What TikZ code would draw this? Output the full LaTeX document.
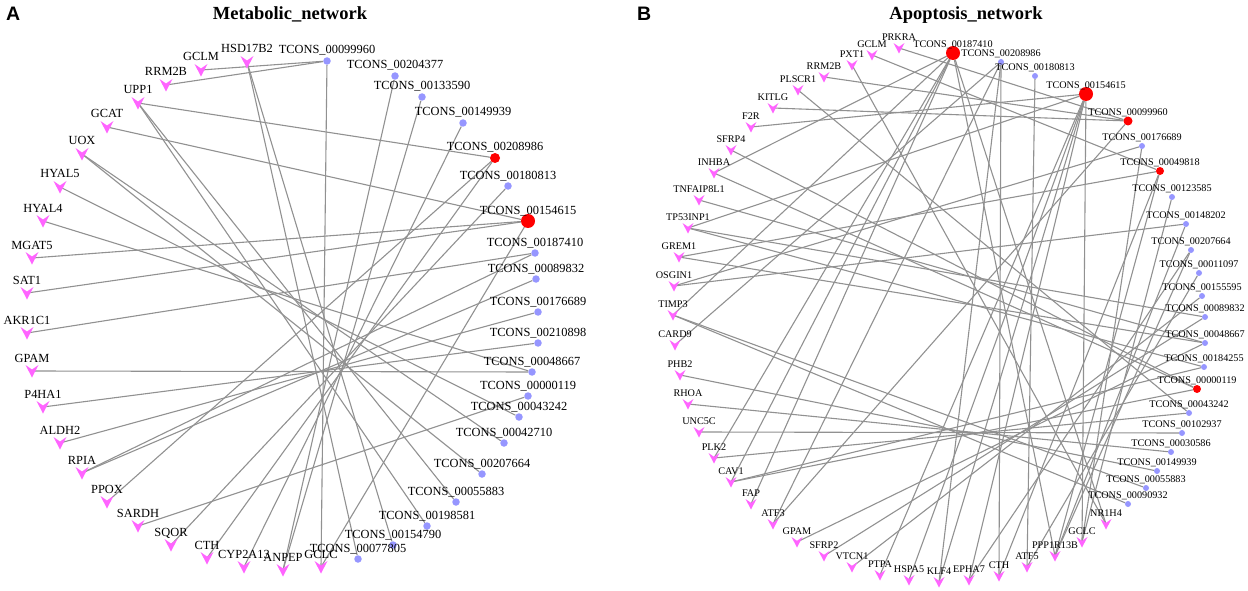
\documentclass[tikz,border=0pt]{standalone}
\usepackage{fontspec}
\setmainfont{Liberation Serif}
\newfontfamily\panelfont{Liberation Sans}
\pgfdeclarelayer{bg}\pgfsetlayers{bg,main}
\definecolor{genecol}{RGB}{255,100,255}
\definecolor{tcol}{RGB}{150,150,255}
\definecolor{edgecol}{RGB}{145,145,145}
\tikzset{
  lblA/.style={anchor=base,inner sep=0pt,font=\fontsize{12.4}{14}\selectfont},
  lblB/.style={anchor=base,inner sep=0pt,font=\fontsize{10.2}{12}\selectfont},
  ttl/.style={anchor=base,inner sep=0pt,font=\fontsize{18.5}{20}\selectfont\bfseries},
  pnl/.style={anchor=base west,inner sep=0pt,font=\fontsize{19.5}{21}\selectfont\panelfont\bfseries},
  gnode/.style={shape=coordinate},
  tnode/.style={circle,fill=tcol,inner sep=0pt,minimum size=#1},
  rnode/.style={circle,fill=red,inner sep=0pt,minimum size=#1},
  edge/.style={draw=edgecol,line width=1.1pt}
}
% #1 panel (A/B), #2 name, #3 x, #4 y, #5 text
\newcommand{\gene}[5]{%
  \node[gnode] (#1-#2) at (#3,#4) {};
  \ifx#1A
    \fill[genecol,shift={(#1-#2)}] (-6.5,-6) -- (0,-1.5) -- (6.5,-6) -- (0,6.5) -- cycle;
    \node[lblA] (#1-#2-t) at ([yshift=9pt]#1-#2) {#5};
  \else
    \fill[genecol,shift={(#1-#2)}] (-5.5,-5) -- (0,-1.2) -- (5.5,-5) -- (0,5.5) -- cycle;
    \node[lblB] (#1-#2-t) at ([yshift=7.5pt]#1-#2) {#5};
  \fi}
% #1 style, #2 panel, #3 number, #4 x, #5 y
\newcommand{\tcons}[5]{%
  \node[#1] (#2-#3) at (#4,#5) {};
  \ifx#2A
    \node[lblA] (#2-#3-t) at ([yshift=7pt]#2-#3.center) {TCONS\_#3};
  \else
    \node[lblB] (#2-#3-t) at ([yshift=5.6pt]#2-#3.center) {TCONS\_#3};
  \fi}
\begin{document}
\begin{tikzpicture}[x=1pt,y=-1pt]
\useasboundingbox (0,0) rectangle (1248,591);
% ---------- panel A ----------
\node[pnl] (pA) at (6,21) {A};
\node[ttl] (tA) at (290,20) {Metabolic\_network};
\gene{A}{HSD17B2}{247}{62}{HSD17B2}
\gene{A}{GCLM}{201}{70}{GCLM}
\gene{A}{RRM2B}{166}{85}{RRM2B}
\gene{A}{UPP1}{138}{103}{UPP1}
\gene{A}{GCAT}{107}{127}{GCAT}
\gene{A}{UOX}{82}{154}{UOX}
\gene{A}{HYAL5}{60}{187}{HYAL5}
\gene{A}{HYAL4}{43}{221}{HYAL4}
\gene{A}{MGAT5}{32}{258}{MGAT5}
\gene{A}{SAT1}{27}{293}{SAT1}
\gene{A}{AKR1C1}{27}{333}{AKR1C1}
\gene{A}{GPAM}{32}{371}{GPAM}
\gene{A}{P4HA1}{43}{407}{P4HA1}
\gene{A}{ALDH2}{60}{443}{ALDH2}
\gene{A}{RPIA}{82}{473}{RPIA}
\gene{A}{PPOX}{107}{502}{PPOX}
\gene{A}{SARDH}{138}{526}{SARDH}
\gene{A}{SQOR}{171}{545}{SQOR}
\gene{A}{CTH}{207}{558}{CTH}
\gene{A}{CYP2A13}{244}{567}{CYP2A13}
\gene{A}{ANPEP}{283}{570}{ANPEP}
\gene{A}{GCLC}{321}{567}{GCLC}
\tcons{tnode=7.5pt}{A}{00099960}{327}{61}
\tcons{tnode=7.5pt}{A}{00204377}{395}{76}
\tcons{tnode=7.5pt}{A}{00133590}{422}{97}
\tcons{tnode=7.5pt}{A}{00149939}{463}{123}
\tcons{rnode=10pt}{A}{00208986}{495}{158}
\tcons{tnode=7.5pt}{A}{00180813}{508}{186}
\tcons{rnode=14pt}{A}{00154615}{528}{221}
\tcons{tnode=7.5pt}{A}{00187410}{535}{253}
\tcons{tnode=7.5pt}{A}{00089832}{536}{279}
\tcons{tnode=7.5pt}{A}{00176689}{538}{312}
\tcons{tnode=7.5pt}{A}{00210898}{538}{343}
\tcons{tnode=7.5pt}{A}{00048667}{532}{372}
\tcons{tnode=7.5pt}{A}{00000119}{528}{396}
\tcons{tnode=7.5pt}{A}{00043242}{519}{417}
\tcons{tnode=7.5pt}{A}{00042710}{504}{443}
\tcons{tnode=7.5pt}{A}{00207664}{482}{474}
\tcons{tnode=7.5pt}{A}{00055883}{456}{502}
\tcons{tnode=7.5pt}{A}{00198581}{427}{526}
\tcons{tnode=7.5pt}{A}{00154790}{393}{545}
\tcons{tnode=7.5pt}{A}{00077805}{358}{559}
\begin{pgfonlayer}{bg}
\foreach \g/\t in {GCLM/00099960,RRM2B/00099960,GCLC/00099960,
  HSD17B2/00077805,HSD17B2/00154790,ANPEP/00204377,ANPEP/00133590,
  CYP2A13/00149939,UPP1/00208986,PPOX/00208986,CTH/00208986,SQOR/00180813,
  GCAT/00154615,MGAT5/00154615,SAT1/00154615,GCLC/00154615,
  AKR1C1/00187410,RPIA/00089832,RPIA/00187410,ALDH2/00176689,P4HA1/00210898,
  GPAM/00048667,HYAL4/00048667,SARDH/00000119,HYAL5/00043242,
  UOX/00042710,UOX/00207664,UPP1/00055883,UPP1/00198581}
  \draw[edge] (A-\g) -- (A-\t);
\end{pgfonlayer}
% ---------- panel B ----------
\node[pnl] (pB) at (637,21) {B};
\node[ttl] (tB) at (966,20) {Apoptosis\_network};
\gene{B}{PRKRA}{899}{48}{PRKRA}
\gene{B}{GCLM}{872}{55}{GCLM}
\gene{B}{PXT1}{852}{65}{PXT1}
\gene{B}{RRM2B}{824}{77}{RRM2B}
\gene{B}{PLSCR1}{798}{90}{PLSCR1}
\gene{B}{KITLG}{773}{108}{KITLG}
\gene{B}{F2R}{751}{127}{F2R}
\gene{B}{SFRP4}{731}{150}{SFRP4}
\gene{B}{INHBA}{714}{173}{INHBA}
\gene{B}{TNFAIP8L1}{699}{200}{TNFAIP8L1}
\gene{B}{TP53INP1}{688}{228}{TP53INP1}
\gene{B}{GREM1}{679}{257}{GREM1}
\gene{B}{OSGIN1}{674}{286}{OSGIN1}
\gene{B}{TIMP3}{673}{315}{TIMP3}
\gene{B}{CARD9}{675}{345}{CARD9}
\gene{B}{PHB2}{680}{375}{PHB2}
\gene{B}{RHOA}{688}{404}{RHOA}
\gene{B}{UNC5C}{699}{432}{UNC5C}
\gene{B}{PLK2}{714}{458}{PLK2}
\gene{B}{CAV1}{731}{482}{CAV1}
\gene{B}{FAP}{751}{504}{FAP}
\gene{B}{ATF3}{773}{524}{ATF3}
\gene{B}{GPAM}{797}{542}{GPAM}
\gene{B}{SFRP2}{824}{556}{SFRP2}
\gene{B}{VTCN1}{852}{567}{VTCN1}
\gene{B}{PTPA}{880}{575}{PTPA}
\gene{B}{HSPA5}{909}{580}{HSPA5}
\gene{B}{KLF4}{939}{582}{KLF4}
\gene{B}{EPHA7}{969}{580}{EPHA7}
\gene{B}{CTH}{999}{576}{CTH}
\gene{B}{ATF5}{1027}{567}{ATF5}
\gene{B}{PPP1R13B}{1055}{556}{PPP1R13B}
\gene{B}{GCLC}{1082}{542}{GCLC}
\gene{B}{NR1H4}{1106}{524}{NR1H4}
\tcons{rnode=14pt}{B}{00187410}{953}{53}
\tcons{tnode=6pt}{B}{00208986}{1001}{62}
\tcons{tnode=6pt}{B}{00180813}{1035}{76}
\tcons{rnode=14pt}{B}{00154615}{1086}{94}
\tcons{rnode=9pt}{B}{00099960}{1128}{121}
\tcons{tnode=6pt}{B}{00176689}{1142}{146}
\tcons{rnode=8pt}{B}{00049818}{1160}{171}
\tcons{tnode=6pt}{B}{00123585}{1172}{197}
\tcons{tnode=6pt}{B}{00148202}{1186}{224}
\tcons{tnode=6pt}{B}{00207664}{1191}{250}
\tcons{tnode=6pt}{B}{00011097}{1199}{273}
\tcons{tnode=6pt}{B}{00155595}{1202}{296}
\tcons{tnode=6pt}{B}{00089832}{1205}{317}
\tcons{tnode=6pt}{B}{00048667}{1205}{343}
\tcons{tnode=6pt}{B}{00184255}{1204}{367}
\tcons{rnode=8pt}{B}{00000119}{1197}{389}
\tcons{tnode=6pt}{B}{00043242}{1189}{413}
\tcons{tnode=6pt}{B}{00102937}{1182}{433}
\tcons{tnode=6pt}{B}{00030586}{1171}{452}
\tcons{tnode=6pt}{B}{00149939}{1157}{471}
\tcons{tnode=6pt}{B}{00055883}{1146}{488}
\tcons{tnode=6pt}{B}{00090932}{1128}{504}
\begin{pgfonlayer}{bg}
\foreach \g/\t in {PRKRA/00099960,GCLM/00049818,PXT1/NR1H4,RRM2B/00099960,
  PLSCR1/00043242,KITLG/00099960,F2R/00154615,SFRP4/00000119,INHBA/00187410,
  INHBA/00000119,TNFAIP8L1/00048667,TP53INP1/00154615,TP53INP1/00089832,
  TP53INP1/00184255,GREM1/00048667,GREM1/00049818,OSGIN1/00176689,
  OSGIN1/00148202,TIMP3/00187410,TIMP3/00055883,TIMP3/00090932,CARD9/00208986,
  PHB2/00149939,RHOA/00030586,UNC5C/00102937,PLK2/00043242,PLK2/00187410,
  CAV1/00184255,CAV1/00000119,CAV1/00187410,FAP/00187410,
  ATF3/00208986,ATF3/00099960,GPAM/00048667,SFRP2/00089832,
  VTCN1/00155595,PTPA/00154615,HSPA5/00154615,KLF4/00154615,KLF4/00208986,
  EPHA7/00154615,EPHA7/00207664,CTH/00208986,CTH/00049818,
  ATF5/00180813,ATF5/00011097,PPP1R13B/00187410,PPP1R13B/00049818,
  PPP1R13B/00148202,PPP1R13B/00207664,GCLC/00154615,GCLC/00176689,
  GCLC/00123585,NR1H4/00187410}
  \draw[edge] (B-\g) -- (B-\t);
\end{pgfonlayer}
\end{tikzpicture}
\end{document}
